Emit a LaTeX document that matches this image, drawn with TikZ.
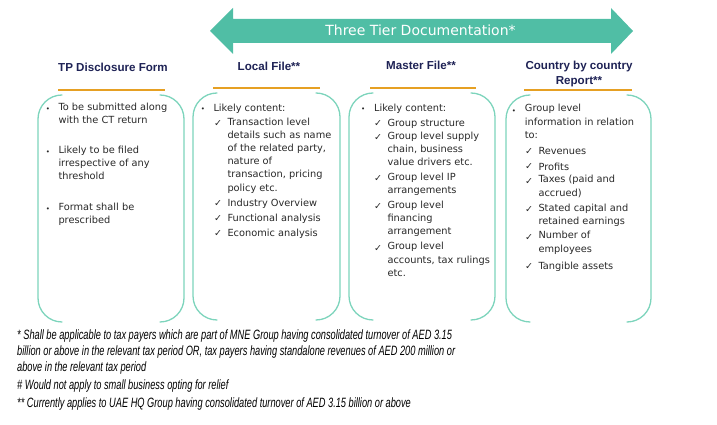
\documentclass[tikz,border=0pt]{standalone}
\usepackage{fontspec}
\setmainfont{DejaVu Sans}
\newfontfamily\headfont{Liberation Sans}
\newfontfamily\notefont[FakeStretch=0.685]{Liberation Sans}
\usetikzlibrary{calc}
\definecolor{tierteal}{RGB}{80,190,165}
\definecolor{boxteal}{RGB}{125,212,188}
\definecolor{ruleorange}{RGB}{230,160,35}
\definecolor{headnavy}{RGB}{30,34,85}
\definecolor{bodygray}{RGB}{40,40,40}

\begin{document}
\begin{tikzpicture}[x=1pt,y=1pt,line cap=round,line join=round,
  bracket/.style={draw=boxteal,line width=1.3pt},
  rule/.style={draw=ruleorange,line width=2.2pt,line cap=butt},
  head/.style={font=\headfont\bfseries\fontsize{11.6}{14.3}\selectfont,text=headnavy,inner sep=0pt,anchor=base,align=center},
  item/.style={font=\fontsize{9.8}{13.2}\selectfont,text=bodygray,inner sep=0pt,anchor=north west,align=left,
    yshift=9.24pt,execute at begin node=\strut},
  dot/.style={font=\fontsize{7}{8}\selectfont,text=bodygray,inner sep=0pt,anchor=base east,xshift=-8pt,yshift=-9.24pt},
  tick/.style={font=\fontsize{9.5}{10}\selectfont,text=bodygray,inner sep=0pt,anchor=base east,xshift=-5.1pt,yshift=-9.24pt},
  note/.style={font=\notefont\itshape\fontsize{13.5}{15.7}\selectfont,text=black,inner sep=0pt,anchor=north west,align=left,
    yshift=10.99pt,execute at begin node=\strut}]
  \useasboundingbox (0,0) rectangle (717,425);
  % double arrow across the three tiers
  \fill[tierteal] (210,394) -- (233,417) -- (233,406) -- (611,406) -- (611,417)
    -- (633,394) -- (611,371) -- (611,382) -- (233,382) -- (233,371) -- cycle;
  \node[font=\fontsize{14}{16}\selectfont,text=white,inner sep=0pt,anchor=base] (tier) at (420.5,389) {Three Tier Documentation*};
  % column brackets
  \foreach \l/\r/\t/\b in {38/184/330/103,193/340/332/105,349/495/332/105,506/651/330/103}{
    \draw[bracket] (\l+24,\t) arc[start angle=90,end angle=180,radius=24] -- (\l,\b+24)
      arc[start angle=180,end angle=270,radius=24];
    \draw[bracket] (\r-24,\t) arc[start angle=90,end angle=0,radius=24] -- (\r,\b+24)
      arc[start angle=0,end angle=-90,radius=24];
  }
  % headings and orange rules
  \node[head] (tpHead) at (113,353.3) {TP Disclosure Form};
  \node[head] (lfHead) at (269,354.3) {Local File**};
  \node[head] (mfHead) at (421,355) {Master File**};
  \node[head] (cbHead) at (579,340.7) {Country by country\\Report**};
  \draw[rule] (58,335) -- (165,335);
  \draw[rule] (213,337) -- (320,337);
  \draw[rule] (370,337) -- (476,337);
  \draw[rule] (524,335) -- (632,335);
  % TP disclosure form
  \node[item] (tp1) at (58.3,313) {To be submitted along\\with the CT return};
  \node[item] (tp2) at (58.3,270) {Likely to be filed\\irrespective of any\\threshold};
  \node[item] (tp3) at (58.3,213.3) {Format shall be\\prescribed};
  \node[dot] (tp1d) at (tp1.north west) {•};
  \node[dot] (tp2d) at (tp2.north west) {•};
  \node[dot] (tp3d) at (tp3.north west) {•};
  % local file
  \node[item] (lf0) at (213.3,313.3) {Likely content:};
  \node[dot] (lf0d) at (lf0.north west) {•};
  \node[item] (lf1) at (227.3,298.3) {Transaction level\\details such as name\\of the related party,\\nature of\\transaction, pricing\\policy etc.};
  \node[item] (lf2) at (227.3,218.3) {Industry Overview};
  \node[item] (lf3) at (227.3,203.3) {Functional analysis};
  \node[item] (lf4) at (227.3,188.3) {Economic analysis};
  \node[tick] (lf1t) at (lf1.north west) {✓};
  \node[tick] (lf2t) at (lf2.north west) {✓};
  \node[tick] (lf3t) at (lf3.north west) {✓};
  \node[tick] (lf4t) at (lf4.north west) {✓};
  % master file
  \node[item] (mf0) at (374,313.3) {Likely content:};
  \node[dot,xshift=-0.5pt] (mf0d) at (mf0.north west) {•};
  \node[item] (mf1) at (387.3,298.3) {Group structure};
  \node[item] (mf2) at (387.3,284) {Group level supply\\chain, business\\value drivers etc.};
  \node[item] (mf3) at (387.3,243) {Group level IP\\arrangements};
  \node[item] (mf4) at (387.3,215) {Group level\\financing\\arrangement};
  \node[item] (mf5) at (387.3,173.6) {Group level\\accounts, tax rulings\\etc.};
  \node[tick] (mf1t) at (mf1.north west) {✓};
  \node[tick] (mf2t) at (mf2.north west) {✓};
  \node[tick] (mf3t) at (mf3.north west) {✓};
  \node[tick] (mf4t) at (mf4.north west) {✓};
  \node[tick] (mf5t) at (mf5.north west) {✓};
  % country by country report
  \node[item] (cb0) at (524.7,311.6) {Group level\\information in relation\\to:};
  \node[dot,xshift=-0.5pt] (cb0d) at (cb0.north west) {•};
  \node[item] (cb1) at (538.3,270.6) {Revenues};
  \node[item] (cb2) at (538.3,255) {Profits};
  \node[item] (cb3) at (538.3,240.6) {Taxes (paid and\\accrued)};
  \node[item] (cb4) at (538.3,212.3) {Stated capital and\\retained earnings};
  \node[item] (cb5) at (538.3,184.6) {Number of\\employees};
  \node[item] (cb6) at (538.3,155.6) {Tangible assets};
  \node[tick] (cb1t) at (cb1.north west) {✓};
  \node[tick] (cb2t) at (cb2.north west) {✓};
  \node[tick] (cb3t) at (cb3.north west) {✓};
  \node[tick] (cb4t) at (cb4.north west) {✓};
  \node[tick] (cb5t) at (cb5.north west) {✓};
  \node[tick] (cb6t) at (cb6.north west) {✓};
  % footnotes
  \node[note] (note1) at (17,84) {* Shall be applicable to tax payers which are part of MNE Group having consolidated turnover of AED 3.15\\billion or above in the relevant tax period OR, tax payers having standalone revenues of AED 200 million or\\above in the relevant tax period};
  \node[note] (note2) at (17,36) {\# Would not apply to small business opting for relief};
  \node[note] (note3) at (17,18) {** Currently applies to UAE HQ Group having consolidated turnover of AED 3.15 billion or above};
\end{tikzpicture}
\end{document}
